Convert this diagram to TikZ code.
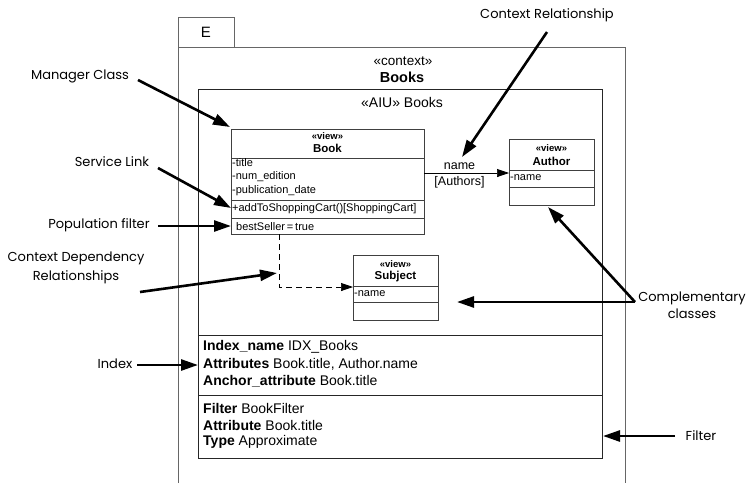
\documentclass[tikz,border=0pt]{standalone}
\usepackage{fontspec}
\setmainfont{Liberation Sans}
\newfontfamily\notefont{Poppins}
\usetikzlibrary{arrows.meta}
\tikzset{
  frameline/.style={draw=black!60, line width=0.8pt},
  boxline/.style={draw=black!85, line width=0.7pt},
  classline/.style={draw=black!75, line width=0.7pt},
  stereo/.style={font=\fontsize{9.5}{10}\selectfont\bfseries, inner sep=0pt},
  cname/.style={font=\fontsize{11.5}{12}\selectfont\bfseries, inner sep=0pt},
  member/.style={font=\fontsize{11}{12}\selectfont, inner sep=0pt, anchor=west},
  infotext/.style={font=\fontsize{14}{15}\selectfont, inner sep=0pt, anchor=west},
  note/.style={font=\notefont\fontsize{13}{17}\selectfont, inner sep=0pt, align=center},
  callout/.style={line width=2.6pt, -{Triangle[length=17pt,width=11pt]}},
  assoc/.style={line width=0.7pt, -{Triangle[length=12pt,width=8pt]}},
}
\begin{document}
\begin{tikzpicture}[x=1pt,y=-1pt]
\useasboundingbox (0,0) rectangle (748,483);

% package frame with its tab
\draw[frameline] (178,483) -- (178,47) -- (625,47) -- (625,483);
\draw[frameline] (178,47) -- (178,17) -- (234,17) -- (234,47);
\node[font=\fontsize{15}{15}\selectfont, inner sep=0pt] (tab) at (206,32) {E};
\node[font=\fontsize{13.5}{14}\selectfont, inner sep=0pt] (ctxst) at (403,61) {«context»};
\node[font=\fontsize{14.5}{15}\selectfont\bfseries, inner sep=0pt] (ctxname) at (402,77) {Books};

% AIU box with index and filter compartments
\draw[boxline] (198,89) rectangle (602,458);
\draw[boxline] (198,335) -- (602,335);
\draw[boxline] (198,395) -- (602,395);
\node[font=\fontsize{14}{15}\selectfont, inner sep=0pt] (aiu) at (402,102) {«AIU» Books};

% Book class
\draw[classline] (231,129) rectangle (424,234);
\draw[classline] (231,158) -- (424,158);
\draw[classline] (231,200) -- (424,200);
\draw[classline] (231,218) -- (424,218);
\node[stereo] (bookst) at (327.5,136) {«view»};
\node[cname] (bookname) at (327.5,148.5) {Book};
\node[member] (b1) at (232,163) {-title};
\node[member] (b2) at (232,177) {-num\_edition};
\node[member] (b3) at (232,191) {-publication\_date};
\node[member] (b4) at (232,208.5) {+addToShoppingCart()[ShoppingCart]};
\node[member] (b5) at (236,226.5) {bestSeller\,=\,true};

% Author class
\draw[classline] (509,139) rectangle (594,205);
\draw[classline] (509,170) -- (594,170);
\draw[classline] (509,187) -- (594,187);
\node[stereo] (authst) at (551.5,148) {«view»};
\node[cname] (authname) at (551.5,161) {Author};
\node[member] (a1) at (510,178) {-name};

% Subject class
\draw[classline] (353,255) rectangle (438,320);
\draw[classline] (353,286) -- (438,286);
\draw[classline] (353,302) -- (438,302);
\node[stereo] (subjst) at (395.5,264) {«view»};
\node[cname] (subjname) at (395.5,276.5) {Subject};
\node[member] (s1) at (354,293.5) {-name};

% context relationship Book -> Author
\coordinate (assocA) at (424,173);
\coordinate (assocB) at (509,173);
\draw[assoc] (assocA) -- (assocB);
\node[font=\fontsize{12.5}{13}\selectfont, inner sep=0pt] (rolename) at (459.5,166) {name};
\node[font=\fontsize{12.5}{13}\selectfont, inner sep=0pt] (rolemult) at (459.5,182) {[Authors]};

% context dependency Book -> Subject
\coordinate (depA) at (279,234);
\coordinate (depB) at (279,287);
\coordinate (depC) at (353,287);
\draw[line width=0.7pt, dash pattern=on 6pt off 4pt, -{Triangle[length=12pt,width=8pt]}] (depA) -- (depB) -- (depC);

% index compartment
\node[infotext] (i1) at (203,347) {\textbf{Index\_name} IDX\_Books};
\node[infotext] (i2) at (203,364) {\textbf{Attributes} Book.title, Author.name};
\node[infotext] (i3) at (203,381) {\textbf{Anchor\_attribute} Book.title};
% filter compartment
\node[infotext] (f1) at (203,408) {\textbf{Filter} BookFilter};
\node[infotext] (f2) at (203,425) {\textbf{Attribute} Book.title};
\node[infotext] (f3) at (203,442) {\textbf{Type} Approximate};

% explanatory callouts
\node[note] (nManager) at (80,76) {Manager Class};
\node[note] (nService) at (112,162) {Service Link};
\node[note] (nPop) at (99,225) {Population filter};
\node[note, font=\notefont\fontsize{13}{19.5}\selectfont] (nDep) at (76,268) {Context Dependency\\Relationships};
\node[note] (nCtx) at (547,15) {Context Relationship};
\node[note] (nComp) at (692,305) {Complementary\\classes};
\node[note] (nIndex) at (115,364) {Index};
\node[note] (nFilter) at (701,436) {Filter};

\coordinate (tManager) at (230,127);
\coordinate (tService) at (231,208);
\coordinate (tPop) at (231,226);
\coordinate (tDep) at (277,273);
\coordinate (tCtx) at (462,157);
\coordinate (tCompA) at (457,302);
\coordinate (tCompB) at (548,207);
\coordinate (tIndex) at (198,365);
\coordinate (tFilter) at (603,436);
\coordinate (compJoin) at (635,302);

\draw[callout] (138,80) -- (tManager);
\draw[callout] (158,168) -- (tService);
\draw[callout] (158,226) -- (tPop);
\draw[callout] (140,292) -- (tDep);
\draw[callout] (547,32) -- (tCtx);
\draw[callout] (compJoin) -- (tCompA);
\draw[callout] (compJoin) -- (tCompB);
\draw[callout] (137,365) -- (tIndex);
\draw[callout] (675,436) -- (tFilter);
\end{tikzpicture}
\end{document}
